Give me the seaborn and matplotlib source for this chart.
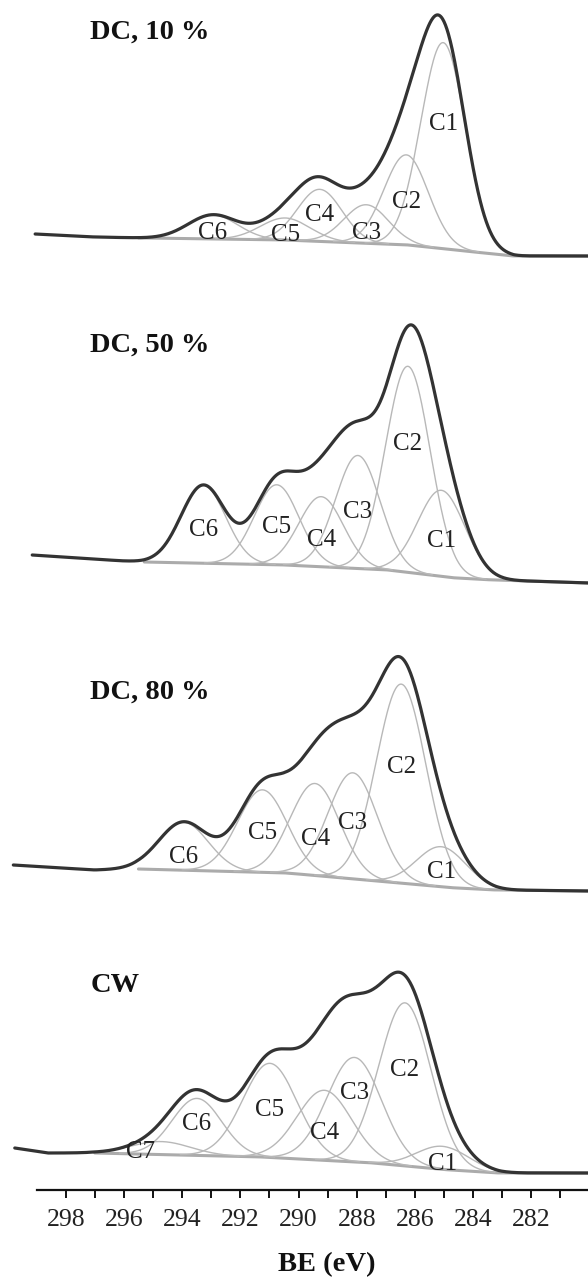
import numpy as np
import matplotlib
matplotlib.use('Agg')
import matplotlib.pyplot as plt
from matplotlib.ticker import FixedLocator
import seaborn as sns

# Peak fit results (centre BE in eV, height in a.u., FWHM in eV)
titles = ['DC, 10 %', 'DC, 50 %', 'DC, 80 %', 'CW']

labels_10 = ['C1', 'C2', 'C3', 'C4', 'C5', 'C6']
center_10 = [285.03, 286.30, 287.67, 289.27, 290.46, 292.94]
height_10 = [206, 90, 38.5, 52, 22, 24]
fwhm_10 = [1.8, 1.8, 1.8, 1.8, 2.0, 2.0]
bg_be_10 = [299.05, 297.0, 295.3, 290.4, 286.2, 283.3, 282.6, 280.0]
bg_int_10 = [56, 53, 52, 50, 45, 36, 34, 34]
label_int_10 = [166, 88, 57, 75, 55, 57]

labels_50 = ['C1', 'C2', 'C3', 'C4', 'C5', 'C6']
center_50 = [285.09, 286.24, 287.96, 289.22, 290.75, 293.27]
height_50 = [86, 206, 113, 70, 80, 78]
fwhm_50 = [1.9, 1.8, 1.8, 1.8, 1.8, 1.8]
bg_be_50 = [299.15, 296.0, 295.3, 290.4, 286.9, 284.6, 283.3, 280.0]
bg_int_50 = [55, 49, 48, 45, 40, 32, 30, 27]
label_int_50 = [69, 166, 98, 70, 83, 80]

labels_80 = ['C1', 'C2', 'C3', 'C4', 'C5', 'C6']
center_80 = [285.09, 286.47, 288.13, 289.43, 291.24, 293.95]
height_80 = [40, 199, 106, 92, 82.5, 48]
fwhm_80 = [2.0, 2.0, 2.0, 2.0, 2.0, 2.0]
bg_be_80 = [299.8, 297.0, 295.5, 290.4, 286.9, 284.6, 283.2, 280.0]
bg_int_80 = [65, 60, 61, 57, 48, 42, 40, 39]
label_int_80 = [58, 163, 107, 91, 97, 73]

labels_cw = ['C1', 'C2', 'C3', 'C4', 'C5', 'C6', 'C7']
center_cw = [285.05, 286.34, 288.08, 289.11, 290.98, 293.49, 294.72]
height_cw = [23, 163, 104.5, 70, 94, 57, 13]
fwhm_cw = [2.1, 2.1, 2.2, 2.2, 2.2, 2.0, 2.4]
bg_be_cw = [299.75, 298.6, 297.0, 291.2, 287.4, 284.8, 283.1, 280.0]
bg_int_cw = [42, 37, 37, 33, 27, 20, 17, 17]
label_int_cw = [26, 120, 97, 57, 80, 66, 38]

# where the Shirley background line begins (eV)
bg_start = [295.5, 295.3, 295.5, 297.0]

major_ticks = [298, 296, 294, 292, 290, 288, 286, 284, 282]
minor_ticks = [297, 295, 293, 291, 289, 287, 285, 283, 281]

# Layout (pixels of a 588 x 1283 canvas)
W, H = 588, 1283
panel_px = [(0, 290), (290, 610), (610, 930), (930, 1190)]
title_int = [258, 265, 238, 205]
label_shift = {'C7': 0.7}

panels = [
    dict(labels=labels_10, center=center_10, height=height_10, fwhm=fwhm_10,
         bg_be=bg_be_10, bg_int=bg_int_10, label_int=label_int_10),
    dict(labels=labels_50, center=center_50, height=height_50, fwhm=fwhm_50,
         bg_be=bg_be_50, bg_int=bg_int_50, label_int=label_int_50),
    dict(labels=labels_80, center=center_80, height=height_80, fwhm=fwhm_80,
         bg_be=bg_be_80, bg_int=bg_int_80, label_int=label_int_80),
    dict(labels=labels_cw, center=center_cw, height=height_cw, fwhm=fwhm_cw,
         bg_be=bg_be_cw, bg_int=bg_int_cw, label_int=label_int_cw),
]

sns.set_theme(style='white')
plt.rcParams['font.family'] = ['Liberation Serif', 'DejaVu Serif']

fig = plt.figure(figsize=(W / 100, H / 100), dpi=100)
fig.patch.set_facecolor('white')

be = np.linspace(300, 280, 1201)
ax_left, ax_width = 7.5 / W, 582 / W

for i, p in enumerate(panels):
    top, bottom = panel_px[i]
    ax = fig.add_axes([ax_left, 1 - bottom / H, ax_width, (bottom - top) / H])
    ax.set_xlim(300, 280)
    ax.set_ylim(0, bottom - top)
    ax.set_facecolor('none')

    bg = np.interp(be, p['bg_be'][::-1], p['bg_int'][::-1])
    comps = []
    for c, h, w in zip(p['center'], p['height'], p['fwhm']):
        s = w / 2.3548
        comps.append(h * np.exp(-0.5 * ((be - c) / s) ** 2))
    total = bg + np.sum(comps, axis=0)

    # background
    m = be <= bg_start[i]
    sns.lineplot(x=be[m], y=bg[m], ax=ax, color='#ababab', lw=2.2, zorder=2)
    # components
    for g in comps:
        m = g > 0.4
        sns.lineplot(x=be[m], y=(bg + g)[m], ax=ax, color='#b8b8b8', lw=1.0, zorder=3)
    # envelope
    m = be <= p['bg_be'][0]
    sns.lineplot(x=be[m], y=total[m], ax=ax, color='#333333', lw=2.3, zorder=5)

    for lab, c, li in zip(p['labels'], p['center'], p['label_int']):
        ax.text(c + label_shift.get(lab, 0.0), li, lab, ha='center', va='center',
                fontsize=18, color='#222222', zorder=6)

    ax.text(297.16, title_int[i], titles[i], ha='left', va='center',
            fontsize=20.5, fontweight='bold', color='#111111')

    for sp in ax.spines.values():
        sp.set_visible(False)
    ax.set_yticks([])
    ax.set_xlabel('')
    ax.set_ylabel('')
    if i < 3:
        ax.set_xticks([])
    else:
        ax.spines['bottom'].set_visible(True)
        ax.spines['bottom'].set_bounds(299, 280)
        ax.spines['bottom'].set_linewidth(1.6)
        ax.spines['bottom'].set_color('#111111')
        ax.xaxis.set_major_locator(FixedLocator(major_ticks))
        ax.xaxis.set_minor_locator(FixedLocator(minor_ticks))
        ax.set_xticklabels([str(t) for t in major_ticks])
        ax.tick_params(axis='x', which='both', bottom=True, direction='out',
                       length=5.5, width=1.4, color='#111111')
        ax.tick_params(axis='x', which='major', labelsize=18.5, pad=8,
                       labelcolor='#222222')

fig.text(327 / W, 1 - 1265 / H, 'BE (eV)', ha='center', va='center',
         fontsize=20.5, fontweight='bold', color='#111111')

fig.savefig('out.png', dpi=100, facecolor='white')
